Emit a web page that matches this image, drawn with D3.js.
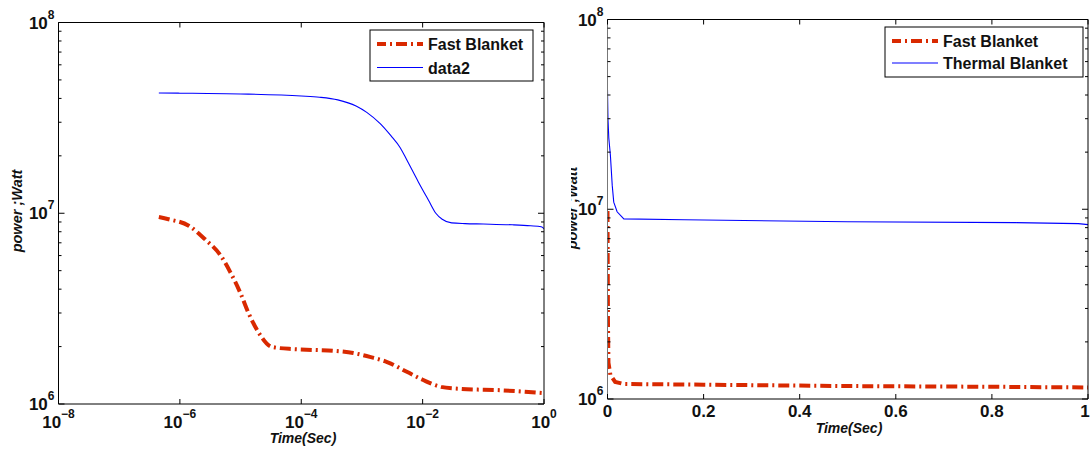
<!DOCTYPE html>
<html>
<head>
<meta charset="utf-8">
<script src="https://cdn.jsdelivr.net/npm/d3@7"></script>
<style>
  html, body { margin: 0; padding: 0; background: #fff; }
  text { font-family: "Liberation Sans", Arial, sans-serif; }
</style>
</head>
<body>
<svg id="chart" width="1091" height="453"></svg>
<script>
// ---------- DATA ----------
const leftTime    = [4.5e-7, 1e-6, 1e-5, 1e-4, 2e-4, 4e-4, 8e-4, 1.2e-3, 2e-3, 3e-3, 4.3e-3, 5.5e-3, 8.5e-3, 1.25e-2, 1.65e-2, 2.1e-2, 3e-2, 5e-2, 0.1, 0.3, 0.6, 0.9, 1.0];
const leftThermal = [4.27e7, 4.26e7, 4.22e7, 4.12e7, 4.06e7, 3.93e7, 3.65e7, 3.38e7, 2.95e7, 2.55e7, 2.2e7, 1.9e7, 1.46e7, 1.17e7, 1.0e7, 9.3e6, 8.9e6, 8.82e6, 8.78e6, 8.7e6, 8.6e6, 8.5e6, 8.3e6];
const leftFastTime = [4.5e-7, 6.5e-7, 1.4e-6, 2.6e-6, 4.7e-6, 6.8e-6, 1e-5, 1.35e-5, 2e-5, 3.3e-5, 7.4e-5, 1.6e-4, 3.4e-4, 7.2e-4, 1.4e-3, 2.6e-3, 5.6e-3, 1e-2, 2e-2, 4.2e-2, 0.2, 1.0];
const leftFast     = [9.55e6, 9.3e6, 8.6e6, 7.3e6, 6.0e6, 4.9e6, 3.8e6, 3.0e6, 2.36e6, 1.99e6, 1.94e6, 1.92e6, 1.9e6, 1.85e6, 1.76e6, 1.66e6, 1.47e6, 1.34e6, 1.23e6, 1.2e6, 1.18e6, 1.14e6];

const rightThermalTime = [0, 0.001, 0.0027, 0.006, 0.0098, 0.013, 0.02, 0.034, 0.16, 0.5, 0.85, 0.98, 1.0];
const rightThermal     = [4.25e7, 3.0e7, 2.37e7, 1.93e7, 1.34e7, 1.09e7, 9.7e6, 8.9e6, 8.8e6, 8.6e6, 8.5e6, 8.4e6, 8.3e6];
const rightFastTime = [0, 0.001, 0.002, 0.006, 0.016, 0.034, 0.2, 0.5, 0.8, 1.0];
const rightFast     = [9.8e6, 2.5e6, 1.55e6, 1.34e6, 1.23e6, 1.2e6, 1.19e6, 1.17e6, 1.16e6, 1.15e6];

const leftXTicks  = [1e-8, 1e-6, 1e-4, 1e-2, 1];
const leftXTickExp = ["\u22128", "\u22126", "\u22124", "\u22122", "0"];
const rightXTicks = [0, 0.2, 0.4, 0.6, 0.8, 1];
const rightXTickLabels = ["0", "0.2", "0.4", "0.6", "0.8", "1"];
const yTicks = [1e6, 1e7, 1e8];
const yTickExp = ["6", "7", "8"];

const leftLegend  = ["Fast Blanket", "data2"];
const rightLegend = ["Fast Blanket", "Thermal Blanket"];
const xLabel = "Time(Sec)";
const yLabel = "power ;Watt";

// ---------- STYLE ----------
const RED = "#d92900", BLUE = "#0000ff";
const DASH = "11,4,2,4";
const svg = d3.select("#chart");

function minorLogTicks(lo, hi) {
  const out = [];
  for (let e = Math.log10(lo); e < Math.log10(hi); e++)
    for (let m = 2; m <= 9; m++) out.push(m * Math.pow(10, e));
  return out;
}

function drawPanel(cfg) {
  const g = svg.append("g");
  const x = cfg.x, y = cfg.y;
  const [x0, x1] = x.range(), [y0, y1] = y.range(); // y0 bottom, y1 top

  // data lines
  const clipId = "clip" + cfg.id;
  svg.append("clipPath").attr("id", clipId).append("rect")
    .attr("x", x0).attr("y", y1).attr("width", x1 - x0).attr("height", y0 - y1);
  const line = d3.line().x(d => x(d[0])).y(d => y(d[1])).curve(cfg.curve);
  const pg = g.append("g").attr("clip-path", `url(#${clipId})`);
  pg.append("path").datum(d3.zip(cfg.thermalT, cfg.thermal))
    .attr("d", line).attr("fill", "none").attr("stroke", BLUE).attr("stroke-width", 1.1);
  pg.append("path").datum(d3.zip(cfg.fastT, cfg.fast))
    .attr("d", line).attr("fill", "none").attr("stroke", RED).attr("stroke-width", 4)
    .attr("stroke-dasharray", DASH);

  // frame
  g.append("line").attr("x1", x0).attr("x2", x1).attr("y1", y0).attr("y2", y0).attr("stroke", "#000");
  g.append("line").attr("x1", x0).attr("x2", x1).attr("y1", y1).attr("y2", y1).attr("stroke", "#000");
  g.append("line").attr("x1", x1).attr("x2", x1).attr("y1", y0).attr("y2", y1).attr("stroke", "#000");
  g.append("line").attr("x1", x0).attr("x2", x0).attr("y1", y0).attr("y2", y1).attr("stroke", cfg.leftAxisColor);

  // x ticks (bottom & top, inward)
  cfg.xTicks.forEach(t => {
    const px = x(t);
    g.append("line").attr("x1", px).attr("x2", px).attr("y1", y0).attr("y2", y0 - 5).attr("stroke", "#000");
    g.append("line").attr("x1", px).attr("x2", px).attr("y1", y1).attr("y2", y1 + 5).attr("stroke", "#000");
  });
  // y ticks major + minor (left & right, inward)
  yTicks.forEach(t => {
    const py = y(t);
    g.append("line").attr("x1", x0).attr("x2", x0 + 6).attr("y1", py).attr("y2", py).attr("stroke", "#000");
    g.append("line").attr("x1", x1).attr("x2", x1 - 6).attr("y1", py).attr("y2", py).attr("stroke", "#000");
  });
  minorLogTicks(1e6, 1e8).forEach(t => {
    const py = y(t);
    g.append("line").attr("x1", x0).attr("x2", x0 + 3).attr("y1", py).attr("y2", py).attr("stroke", "#000");
    g.append("line").attr("x1", x1).attr("x2", x1 - 3).attr("y1", py).attr("y2", py).attr("stroke", "#000");
  });

  // x tick labels
  cfg.xTicks.forEach((t, i) => {
    const last = i === cfg.xTicks.length - 1 && !cfg.xExp;
    const tx = g.append("text").attr("x", x(t) - (last ? 3 : 0)).attr("y", y0 + cfg.xLabelDy)
      .attr("text-anchor", "middle").attr("font-size", 17).attr("font-weight", "bold").attr("fill", "#111");
    if (cfg.xExp) {
      tx.append("tspan").text("10");
      tx.append("tspan").attr("dy", -10).attr("font-size", 12).text(cfg.xExp[i]);
    } else {
      tx.text(cfg.xLabels[i]);
    }
  });
  // y tick labels
  yTicks.forEach((t, i) => {
    const tx = g.append("text").attr("x", x0 - 4).attr("y", y(t) + 6)
      .attr("text-anchor", "end").attr("font-size", 17).attr("font-weight", "bold").attr("fill", "#111");
    tx.append("tspan").text("10");
    tx.append("tspan").attr("dy", -10).attr("font-size", 12).text(yTickExp[i]);
  });

  // axis labels
  g.append("text").attr("x", cfg.xTitleX).attr("y", cfg.xTitleY).attr("text-anchor", "middle")
    .attr("font-size", 14).attr("font-weight", "bold").attr("font-style", "italic").attr("fill", "#111")
    .text(xLabel);
  const yl = g.append("g");
  if (cfg.yTitleClip) {
    svg.append("clipPath").attr("id", "yclip" + cfg.id).append("rect")
      .attr("x", cfg.yTitleClip).attr("y", 0).attr("width", 100).attr("height", 453);
    yl.attr("clip-path", `url(#yclip${cfg.id})`);
  }
  yl.append("text").attr("transform", `translate(${cfg.yTitleX},${cfg.yTitleY}) rotate(-90)`)
    .attr("text-anchor", "middle").attr("font-size", 14.5).attr("font-weight", "bold")
    .attr("font-style", "italic").attr("fill", "#111").text(yLabel);

  // legend
  const L = cfg.legend;
  g.append("rect").attr("x", L.x).attr("y", L.y).attr("width", L.w).attr("height", L.h)
    .attr("fill", "#fff").attr("stroke", "#000");
  const sym = [{ c: RED, w: 4, d: DASH }, { c: BLUE, w: 1.1, d: null }];
  cfg.legendText.forEach((s, i) => {
    const ly = L.y + L.row0 + i * L.rowH;
    const ln = g.append("line").attr("x1", L.x + 7).attr("x2", L.x + 53).attr("y1", ly).attr("y2", ly)
      .attr("stroke", sym[i].c).attr("stroke-width", sym[i].w);
    if (sym[i].d) ln.attr("stroke-dasharray", sym[i].d).attr("stroke-dashoffset", 2);
    g.append("text").attr("x", L.x + 58).attr("y", ly + 6).attr("font-size", 16)
      .attr("font-weight", "bold").attr("fill", "#111").text(s);
  });
}

// Left panel (log-log)
drawPanel({
  id: "L",
  x: d3.scaleLog().domain([1e-8, 1]).range([58.5, 544]),
  y: d3.scaleLog().domain([1e6, 1e8]).range([404, 22.5]),
  curve: d3.curveMonotoneX,
  thermalT: leftTime, thermal: leftThermal,
  fastT: leftFastTime, fast: leftFast,
  xTicks: leftXTicks, xExp: leftXTickExp,
  xLabelDy: 24, leftAxisColor: "#000",
  xTitleX: 303, xTitleY: 443, yTitleX: 22, yTitleY: 211,
  legend: { x: 370, y: 30, w: 163, h: 51, row0: 14, rowH: 23.5 },
  legendText: leftLegend
});

// Right panel (linear x, log y)
drawPanel({
  id: "R",
  x: d3.scaleLinear().domain([0, 1]).range([607.5, 1088]),
  y: d3.scaleLog().domain([1e6, 1e8]).range([399, 19.5]),
  curve: d3.curveLinear,
  thermalT: rightThermalTime, thermal: rightThermal,
  fastT: rightFastTime, fast: rightFast,
  xTicks: rightXTicks, xLabels: rightXTickLabels,
  xLabelDy: 18, leftAxisColor: "#777",
  xTitleX: 849, xTitleY: 433, yTitleX: 577, yTitleY: 208, yTitleClip: 571,
  legend: { x: 885, y: 27, w: 198, h: 50, row0: 14, rowH: 22 },
  legendText: rightLegend
});
</script>
</body>
</html>
